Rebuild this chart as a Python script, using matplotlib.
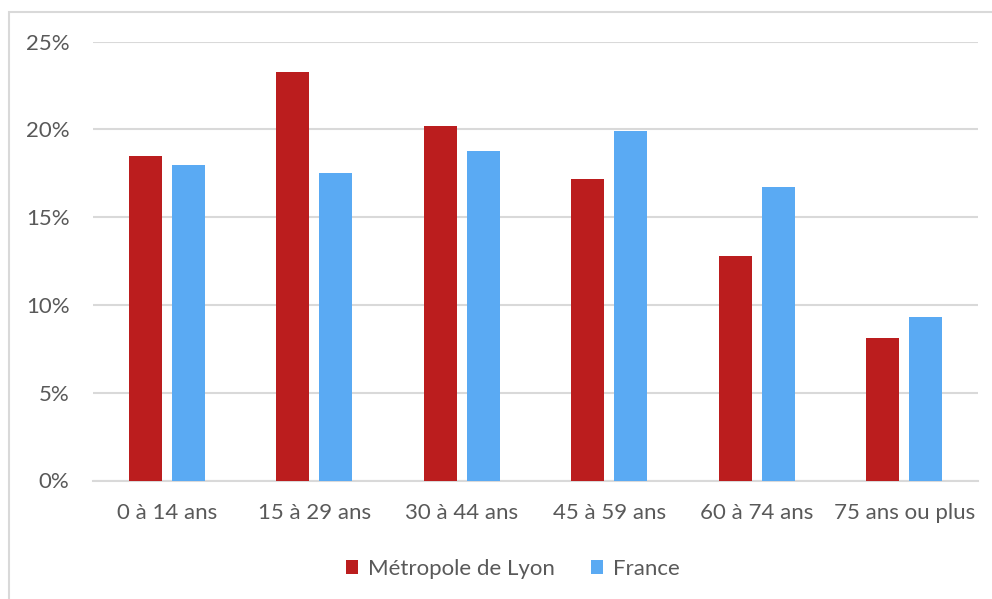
import matplotlib
matplotlib.use("Agg")
import matplotlib.pyplot as plt
import numpy as np
from matplotlib.patches import Rectangle

categories = ["0 à 14 ans", "15 à 29 ans", "30 à 44 ans", "45 à 59 ans", "60 à 74 ans", "75 ans ou plus"]
lyon = [18.5, 23.3, 20.2, 17.2, 12.8, 8.1]
france = [18.0, 17.5, 18.8, 19.9, 16.7, 9.3]
series_names = ["Métropole de Lyon", "France"]
yticks = [0, 5, 10, 15, 20, 25]

RED = "#BB1D1E"
BLUE = "#5AAAF3"
GRID = "#D9D9D9"
TEXT = "#595959"

plt.rcParams['font.family'] = ['Lato', 'DejaVu Sans']

W, H = 992, 599
fig = plt.figure(figsize=(W/100, H/100), dpi=100)
fig.patches.append(Rectangle((9/W, -0.1), 1.2, 1.1 - 12/H, transform=fig.transFigure,
                             fill=False, edgecolor=GRID, linewidth=1.5))

ax = fig.add_axes([93/W, 1 - 480.5/H, (978-93)/W, (480.5-41.7)/H])
x = np.arange(len(categories))
bw = 0.224
off = 0.146
ax.bar(x - off, lyon, bw, color=RED, label=series_names[0], zorder=3)
ax.bar(x + off, france, bw, color=BLUE, label=series_names[1], zorder=3)

ax.set_xlim(-0.5, len(categories) - 0.5)
ax.set_ylim(0, 25)
ax.set_yticks(yticks)
ax.set_yticklabels([f"{v}%" for v in yticks])
ax.set_xticks(x)
ax.set_xticklabels(categories)
ax.yaxis.grid(True, color=GRID, linewidth=1.5, zorder=0)
ax.set_axisbelow(True)
for s in ["top", "right", "left"]:
    ax.spines[s].set_visible(False)
ax.spines["bottom"].set_color(GRID)
ax.spines["bottom"].set_linewidth(1.5)
ax.tick_params(axis="both", length=0, colors=TEXT, labelsize=16)
ax.tick_params(axis="y", pad=17)
ax.tick_params(axis="x", pad=16)

leg = fig.legend(loc="center", bbox_to_anchor=(513/W, 1 - 569/H), ncol=2, frameon=False,
                 fontsize=16, handlelength=0.55, handleheight=0.55, handletextpad=0.45,
                 columnspacing=1.6)
for t in leg.get_texts():
    t.set_color(TEXT)

fig.savefig("out.png", dpi=100)
